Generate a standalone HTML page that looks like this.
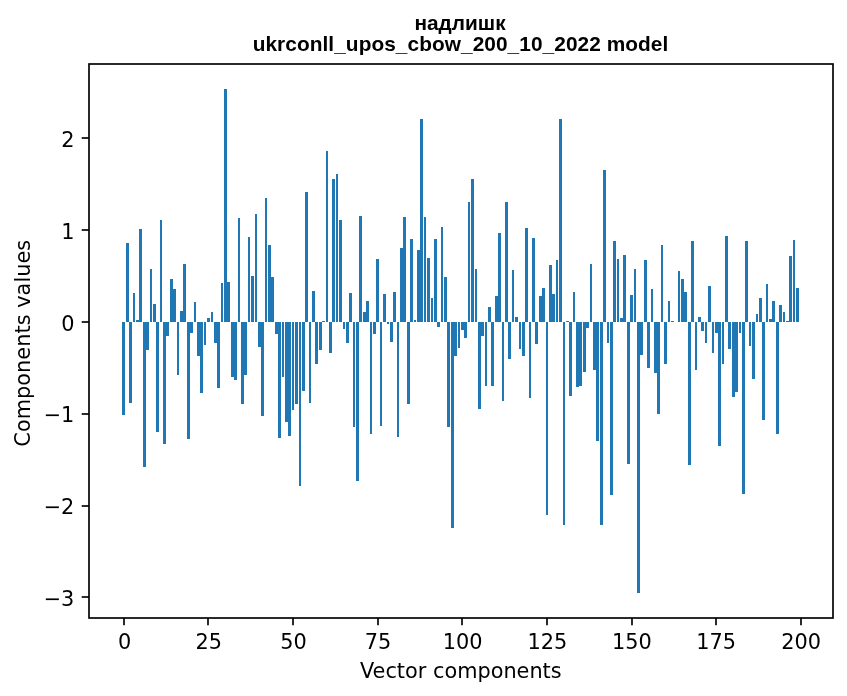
<!DOCTYPE html>
<html><head><meta charset="utf-8"><title>надлишк</title>
<style>html,body{margin:0;padding:0;background:#fff}svg{display:block}</style></head>
<body><svg width="847" height="696" viewBox="0 0 847 696">
<rect width="847" height="696" fill="#fff"/>
<g fill="#1f77b4" shape-rendering="crispEdges"><rect x="122" y="322" width="3" height="93"/><rect x="126" y="243" width="3" height="79"/><rect x="129" y="322" width="3" height="81"/><rect x="133" y="293" width="2" height="29"/><rect x="136" y="320" width="3" height="2"/><rect x="139" y="229" width="3" height="93"/><rect x="143" y="322" width="3" height="145"/><rect x="146" y="322" width="3" height="28"/><rect x="150" y="269" width="2" height="53"/><rect x="153" y="304" width="3" height="18"/><rect x="156" y="322" width="3" height="110"/><rect x="160" y="220" width="2" height="102"/><rect x="163" y="322" width="3" height="122"/><rect x="166" y="322" width="3" height="14"/><rect x="170" y="279" width="3" height="43"/><rect x="173" y="289" width="3" height="33"/><rect x="177" y="322" width="2" height="53"/><rect x="180" y="311" width="3" height="11"/><rect x="183" y="264" width="3" height="58"/><rect x="187" y="322" width="3" height="117"/><rect x="190" y="322" width="3" height="11"/><rect x="194" y="302" width="2" height="20"/><rect x="197" y="322" width="3" height="34"/><rect x="200" y="322" width="3" height="71"/><rect x="204" y="322" width="2" height="23"/><rect x="207" y="318" width="3" height="4"/><rect x="211" y="312" width="2" height="10"/><rect x="214" y="322" width="3" height="21"/><rect x="217" y="322" width="3" height="66"/><rect x="221" y="283" width="2" height="39"/><rect x="224" y="89" width="3" height="233"/><rect x="227" y="282" width="3" height="40"/><rect x="231" y="322" width="3" height="55"/><rect x="234" y="322" width="3" height="58"/><rect x="238" y="218" width="2" height="104"/><rect x="241" y="322" width="3" height="82"/><rect x="244" y="322" width="3" height="53"/><rect x="248" y="237" width="2" height="85"/><rect x="251" y="276" width="3" height="46"/><rect x="255" y="214" width="2" height="108"/><rect x="258" y="322" width="3" height="25"/><rect x="261" y="322" width="3" height="94"/><rect x="265" y="198" width="2" height="124"/><rect x="268" y="245" width="3" height="77"/><rect x="271" y="277" width="3" height="45"/><rect x="275" y="322" width="3" height="12"/><rect x="278" y="322" width="3" height="116"/><rect x="282" y="322" width="2" height="55"/><rect x="285" y="322" width="3" height="100"/><rect x="288" y="322" width="3" height="114"/><rect x="292" y="322" width="2" height="88"/><rect x="295" y="322" width="3" height="82"/><rect x="299" y="322" width="2" height="164"/><rect x="302" y="322" width="3" height="69"/><rect x="305" y="192" width="3" height="130"/><rect x="309" y="322" width="2" height="81"/><rect x="312" y="291" width="3" height="31"/><rect x="315" y="322" width="3" height="42"/><rect x="319" y="322" width="3" height="28"/><rect x="322" y="321" width="3" height="1"/><rect x="326" y="151" width="2" height="171"/><rect x="329" y="322" width="3" height="31"/><rect x="332" y="179" width="3" height="143"/><rect x="336" y="174" width="2" height="148"/><rect x="339" y="220" width="3" height="102"/><rect x="343" y="322" width="2" height="7"/><rect x="346" y="322" width="3" height="21"/><rect x="349" y="293" width="3" height="29"/><rect x="353" y="322" width="2" height="105"/><rect x="356" y="322" width="3" height="159"/><rect x="359" y="216" width="3" height="106"/><rect x="363" y="312" width="3" height="10"/><rect x="366" y="301" width="3" height="21"/><rect x="370" y="322" width="2" height="112"/><rect x="373" y="322" width="3" height="12"/><rect x="376" y="259" width="3" height="63"/><rect x="380" y="322" width="2" height="104"/><rect x="383" y="294" width="3" height="28"/><rect x="387" y="322" width="2" height="2"/><rect x="390" y="322" width="3" height="20"/><rect x="393" y="292" width="3" height="30"/><rect x="397" y="322" width="2" height="115"/><rect x="400" y="248" width="3" height="74"/><rect x="403" y="217" width="3" height="105"/><rect x="407" y="322" width="3" height="82"/><rect x="410" y="239" width="3" height="83"/><rect x="414" y="320" width="2" height="2"/><rect x="417" y="250" width="3" height="72"/><rect x="420" y="119" width="3" height="203"/><rect x="424" y="217" width="2" height="105"/><rect x="427" y="258" width="3" height="64"/><rect x="431" y="298" width="2" height="24"/><rect x="434" y="239" width="3" height="83"/><rect x="437" y="322" width="3" height="5"/><rect x="441" y="227" width="2" height="95"/><rect x="444" y="277" width="3" height="45"/><rect x="447" y="322" width="3" height="105"/><rect x="451" y="322" width="3" height="206"/><rect x="454" y="322" width="3" height="34"/><rect x="458" y="322" width="2" height="26"/><rect x="461" y="322" width="3" height="8"/><rect x="464" y="322" width="3" height="16"/><rect x="468" y="202" width="2" height="120"/><rect x="471" y="179" width="3" height="143"/><rect x="475" y="269" width="2" height="53"/><rect x="478" y="322" width="3" height="87"/><rect x="481" y="322" width="3" height="14"/><rect x="485" y="322" width="2" height="64"/><rect x="488" y="307" width="3" height="15"/><rect x="491" y="322" width="3" height="64"/><rect x="495" y="296" width="3" height="26"/><rect x="498" y="233" width="3" height="89"/><rect x="502" y="322" width="2" height="79"/><rect x="505" y="202" width="3" height="120"/><rect x="508" y="322" width="3" height="37"/><rect x="512" y="270" width="2" height="52"/><rect x="515" y="317" width="3" height="5"/><rect x="519" y="322" width="2" height="27"/><rect x="522" y="322" width="3" height="34"/><rect x="525" y="228" width="3" height="94"/><rect x="529" y="322" width="2" height="76"/><rect x="532" y="238" width="3" height="84"/><rect x="535" y="322" width="3" height="22"/><rect x="539" y="296" width="3" height="26"/><rect x="542" y="288" width="3" height="34"/><rect x="546" y="322" width="2" height="193"/><rect x="549" y="265" width="3" height="57"/><rect x="552" y="294" width="3" height="28"/><rect x="556" y="260" width="2" height="62"/><rect x="559" y="119" width="3" height="203"/><rect x="563" y="322" width="2" height="203"/><rect x="566" y="321" width="3" height="1"/><rect x="569" y="322" width="3" height="74"/><rect x="573" y="292" width="2" height="30"/><rect x="576" y="322" width="3" height="65"/><rect x="579" y="322" width="3" height="64"/><rect x="583" y="322" width="3" height="50"/><rect x="586" y="322" width="3" height="6"/><rect x="590" y="264" width="2" height="58"/><rect x="593" y="322" width="3" height="48"/><rect x="596" y="322" width="3" height="119"/><rect x="600" y="322" width="3" height="203"/><rect x="603" y="170" width="3" height="152"/><rect x="607" y="322" width="2" height="21"/><rect x="610" y="322" width="3" height="173"/><rect x="613" y="241" width="3" height="81"/><rect x="617" y="259" width="2" height="63"/><rect x="620" y="318" width="3" height="4"/><rect x="623" y="255" width="3" height="67"/><rect x="627" y="322" width="3" height="142"/><rect x="630" y="295" width="3" height="27"/><rect x="634" y="269" width="2" height="53"/><rect x="637" y="322" width="3" height="271"/><rect x="640" y="322" width="3" height="33"/><rect x="644" y="260" width="3" height="62"/><rect x="647" y="322" width="3" height="46"/><rect x="651" y="289" width="2" height="33"/><rect x="654" y="322" width="3" height="51"/><rect x="657" y="322" width="3" height="92"/><rect x="661" y="245" width="2" height="77"/><rect x="664" y="322" width="3" height="42"/><rect x="668" y="301" width="2" height="21"/><rect x="671" y="321" width="3" height="1"/><rect x="678" y="271" width="2" height="51"/><rect x="681" y="279" width="3" height="43"/><rect x="684" y="292" width="3" height="30"/><rect x="688" y="322" width="3" height="143"/><rect x="691" y="241" width="3" height="81"/><rect x="695" y="322" width="2" height="48"/><rect x="698" y="317" width="3" height="5"/><rect x="701" y="322" width="3" height="9"/><rect x="705" y="322" width="2" height="21"/><rect x="708" y="286" width="3" height="36"/><rect x="712" y="322" width="2" height="31"/><rect x="715" y="322" width="3" height="11"/><rect x="718" y="322" width="3" height="124"/><rect x="722" y="322" width="2" height="42"/><rect x="725" y="236" width="3" height="86"/><rect x="728" y="322" width="3" height="27"/><rect x="732" y="322" width="3" height="75"/><rect x="735" y="322" width="3" height="70"/><rect x="739" y="322" width="2" height="11"/><rect x="742" y="322" width="3" height="172"/><rect x="745" y="241" width="3" height="81"/><rect x="749" y="322" width="2" height="24"/><rect x="752" y="322" width="3" height="57"/><rect x="756" y="314" width="2" height="8"/><rect x="759" y="298" width="3" height="24"/><rect x="762" y="322" width="3" height="98"/><rect x="766" y="284" width="2" height="38"/><rect x="769" y="319" width="3" height="3"/><rect x="772" y="301" width="3" height="21"/><rect x="776" y="322" width="3" height="112"/><rect x="779" y="305" width="3" height="17"/><rect x="783" y="312" width="2" height="10"/><rect x="786" y="321" width="3" height="1"/><rect x="789" y="256" width="3" height="66"/><rect x="793" y="240" width="2" height="82"/><rect x="796" y="288" width="3" height="34"/></g>
<g stroke="#000" stroke-width="1.667"><line x1="124" y1="618" x2="124" y2="625.29"/><line x1="208" y1="618" x2="208" y2="625.29"/><line x1="293" y1="618" x2="293" y2="625.29"/><line x1="378" y1="618" x2="378" y2="625.29"/><line x1="462" y1="618" x2="462" y2="625.29"/><line x1="547" y1="618" x2="547" y2="625.29"/><line x1="632" y1="618" x2="632" y2="625.29"/><line x1="716" y1="618" x2="716" y2="625.29"/><line x1="801" y1="618" x2="801" y2="625.29"/><line x1="89" y1="138" x2="81.71" y2="138"/><line x1="89" y1="230" x2="81.71" y2="230"/><line x1="89" y1="322" x2="81.71" y2="322"/><line x1="89" y1="414" x2="81.71" y2="414"/><line x1="89" y1="506" x2="81.71" y2="506"/><line x1="89" y1="597" x2="81.71" y2="597"/></g>
<rect x="89" y="64" width="744" height="554" fill="none" stroke="#000" stroke-width="1.667" stroke-linejoin="miter"/>
<g font-family="'DejaVu Sans', sans-serif" font-size="20.83px" fill="#000"><text x="124.65" y="649.2" text-anchor="middle">0</text><text x="208.77" y="649.2" text-anchor="middle">25</text><text x="293.40" y="649.2" text-anchor="middle">50</text><text x="378.03" y="649.2" text-anchor="middle">75</text><text x="462.66" y="649.2" text-anchor="middle">100</text><text x="547.29" y="649.2" text-anchor="middle">125</text><text x="631.77" y="649.2" text-anchor="middle">150</text><text x="716.15" y="649.2" text-anchor="middle">175</text><text x="801.18" y="649.2" text-anchor="middle">200</text><text x="74.4" y="146.80" text-anchor="end">2</text><text x="74.4" y="238.65" text-anchor="end">1</text><text x="74.4" y="330.50" text-anchor="end">0</text><text x="74.4" y="422.35" text-anchor="end">−1</text><text x="74.4" y="514.20" text-anchor="end">−2</text><text x="74.4" y="606.05" text-anchor="end">−3</text><text x="460.8" y="677.75" text-anchor="middle">Vector components</text><text transform="translate(30,343.2) rotate(-90)" text-anchor="middle" letter-spacing="0.045">Components values</text></g>
<g font-family="'Liberation Sans', sans-serif" font-weight="bold" font-size="20.83px" fill="#000" text-anchor="middle"><text x="460.05" y="29.9">надлишк</text><text x="460.5" y="51.3" letter-spacing="0.068">ukrconll_upos_cbow_200_10_2022 model</text></g>
</svg></body></html>
